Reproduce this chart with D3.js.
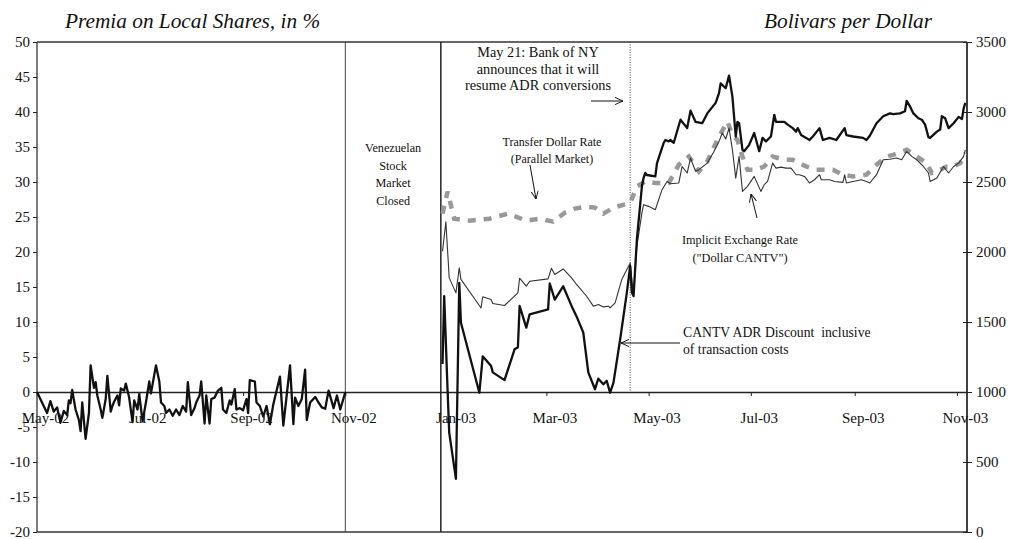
<!DOCTYPE html>
<html>
<head>
<meta charset="utf-8">
<script src="https://cdnjs.cloudflare.com/ajax/libs/d3/7.8.5/d3.min.js"></script>
<style>
  body { margin: 0; background: #fff; }
  svg { display: block; }
  text { font-family: "Liberation Serif", "Times New Roman", serif; fill: #111; }
</style>
</head>
<body>
<svg id="chart" width="1012" height="539"></svg>
<script>
// ---- Data -------------------------------------------------------------
// CANTV ADR discount (premium of local shares, %) before the market closure
const adrDiscount2002 = [
  ["2002-05-01",0],["2002-05-04",-1.5],["2002-05-07",-3.0],["2002-05-09",-1.3],["2002-05-11",-2.8],
  ["2002-05-13",-2.2],["2002-05-15",-4.4],["2002-05-17",-2.7],["2002-05-19",-3.3],["2002-05-20",-1.2],
  ["2002-05-21",-1.6],["2002-05-22",0.3],["2002-05-24",-2.5],["2002-05-26",-4.0],["2002-05-27",-5.6],
  ["2002-05-28",-1.5],["2002-05-30",-6.7],["2002-06-01",-3.0],["2002-06-02",3.8],["2002-06-04",0.6],
  ["2002-06-05",1.4],["2002-06-06",-0.5],["2002-06-08",-2.5],["2002-06-09",-3.7],["2002-06-11",-1.0],
  ["2002-06-12",2.3],["2002-06-14",-2.8],["2002-06-15",-2.0],["2002-06-16",-1.4],["2002-06-18",-0.5],
  ["2002-06-19",-1.9],["2002-06-20",0.5],["2002-06-22",0.2],["2002-06-23",1.2],["2002-06-25",-0.8],
  ["2002-06-27",-4.3],["2002-06-28",-1.2],["2002-06-30",-2.5],["2002-07-01",-0.3],["2002-07-03",-4.2],
  ["2002-07-05",-1.5],["2002-07-07",1.5],["2002-07-08",-0.2],["2002-07-11",3.8],["2002-07-13",1.5],
  ["2002-07-14",-1.5],["2002-07-16",-2.0],["2002-07-17",-3.0],["2002-07-19",-2.5],["2002-07-21",-3.4],
  ["2002-07-23",-2.5],["2002-07-25",-3.3],["2002-07-27",-2.0],["2002-07-29",-2.8],["2002-07-30",1.4],
  ["2002-08-01",-3.3],["2002-08-03",-2.3],["2002-08-04",-1.5],["2002-08-06",-0.5],["2002-08-07",1.5],
  ["2002-08-09",-4.5],["2002-08-10",-0.5],["2002-08-12",-4.5],["2002-08-13",-1.0],["2002-08-15",-0.8],
  ["2002-08-17",0.2],["2002-08-19",0.6],["2002-08-20",-2.5],["2002-08-22",-3.0],["2002-08-24",-1.2],
  ["2002-08-25",-1.8],["2002-08-27",0.4],["2002-08-28",-2.5],["2002-08-30",-2.3],["2002-09-01",-2.6],
  ["2002-09-03",-1.0],["2002-09-04",-3.0],["2002-09-05",1.7],["2002-09-08",1.5],["2002-09-09",-1.5],
  ["2002-09-11",-2.0],["2002-09-13",-3.5],["2002-09-15",-2.0],["2002-09-17",-4.6],["2002-09-19",-1.8],
  ["2002-09-23",2.2],["2002-09-25",-4.8],["2002-09-27",-0.5],["2002-09-29",3.8],["2002-10-01",-4.6],
  ["2002-10-02",-0.8],["2002-10-04",-2.0],["2002-10-06",-1.0],["2002-10-08",3.2],["2002-10-09",-4.0],
  ["2002-10-11",-1.5],["2002-10-14",-0.7],["2002-10-16",-1.5],["2002-10-18",-2.2],["2002-10-20",-2.4],
  ["2002-10-22",0.2],["2002-10-25",-2.3],["2002-10-27",-0.5],["2002-10-29",-2.5],["2002-11-01",0]
];

// CANTV ADR discount after trading resumed (%, inclusive of transaction costs)
const adrDiscount2003 = [
  ["2002-12-29",4.0],["2002-12-30",13.7],["2003-01-01",0.4],["2003-01-02",-5.8],["2003-01-06",-12.4],
  ["2003-01-08",15.6],["2003-01-09",9.9],["2003-01-20",-0.1],["2003-01-22",5.1],["2003-01-27",3.7],
  ["2003-01-28",2.8],["2003-02-04",1.7],["2003-02-10",6.1],["2003-02-12",6.4],["2003-02-13",12.3],
  ["2003-02-17",9.2],["2003-02-19",11.1],["2003-03-02",11.8],["2003-03-03",15.5],["2003-03-06",13.2],
  ["2003-03-11",15.1],["2003-03-16",12.3],["2003-03-19",10.8],["2003-03-23",8.5],["2003-03-26",2.8],
  ["2003-03-30",0.4],["2003-04-01",1.9],["2003-04-04",1.1],["2003-04-06",1.6],["2003-04-08",-0.1],
  ["2003-04-10",1.3],["2003-04-14",7.5],["2003-04-18",14.2],["2003-04-20",18.0],["2003-04-21",14.2],
  ["2003-04-22",13.7],["2003-04-24",21.8],["2003-04-27",29.4],["2003-04-28",30.6],["2003-04-29",31.3],
  ["2003-04-30",31.0],["2003-05-05",30.8],["2003-05-06",32.7],["2003-05-10",35.6],["2003-05-11",36.0],
  ["2003-05-13",35.8],["2003-05-14",36.0],["2003-05-16",35.6],["2003-05-20",38.9],["2003-05-24",37.7],
  ["2003-05-26",40.2],["2003-05-29",38.6],["2003-06-02",38.4],["2003-06-05",39.8],["2003-06-10",41.3],
  ["2003-06-12",42.7],["2003-06-13",44.1],["2003-06-16",43.4],["2003-06-18",45.2],["2003-06-20",42.2],
  ["2003-06-22",36.5],["2003-06-23",38.6],["2003-06-24",38.4],["2003-06-26",34.6],["2003-06-27",34.4],
  ["2003-06-30",35.3],["2003-07-03",37.0],["2003-07-06",34.4],["2003-07-08",36.3],["2003-07-10",35.8],
  ["2003-07-13",36.5],["2003-07-15",39.6],["2003-07-16",38.6],["2003-07-21",38.6],["2003-07-23",38.2],
  ["2003-07-26",37.7],["2003-07-28",37.2],["2003-07-29",37.7],["2003-07-31",36.7],["2003-08-03",36.3],
  ["2003-08-05",36.0],["2003-08-07",36.5],["2003-08-11",37.7],["2003-08-13",36.0],["2003-08-17",36.3],
  ["2003-08-21",36.0],["2003-08-26",37.7],["2003-08-27",36.7],["2003-08-31",36.5],["2003-09-06",36.3],
  ["2003-09-08",36.0],["2003-09-10",36.6],["2003-09-14",38.4],["2003-09-18",39.4],["2003-09-22",39.8],
  ["2003-09-24",39.7],["2003-09-28",39.8],["2003-10-01",40.1],["2003-10-02",41.6],["2003-10-04",40.8],
  ["2003-10-06",39.8],["2003-10-09",39.1],["2003-10-11",38.9],["2003-10-13",38.2],["2003-10-15",36.4],
  ["2003-10-16",36.3],["2003-10-20",37.2],["2003-10-22",37.5],["2003-10-23",39.4],["2003-10-25",39.1],
  ["2003-10-27",37.7],["2003-10-30",38.4],["2003-11-02",39.3],["2003-11-04",39.0],["2003-11-05",40.5],
  ["2003-11-06",41.3]
];

// Implicit exchange rate, "Dollar CANTV" (Bolivars per Dollar)
const implicitRate = [
  ["2002-12-29",2005],["2002-12-31",2215],["2003-01-02",1815],["2003-01-06",1708],["2003-01-08",1887],
  ["2003-01-09",1804],["2003-01-21",1600],["2003-01-22",1680],["2003-01-27",1661],["2003-01-28",1632],
  ["2003-02-04",1618],["2003-02-12",1708],["2003-02-13",1813],["2003-02-17",1756],["2003-02-19",1791],
  ["2003-03-02",1808],["2003-03-04",1884],["2003-03-06",1839],["2003-03-11",1879],["2003-03-16",1815],
  ["2003-03-19",1768],["2003-03-25",1684],["2003-03-29",1613],["2003-04-01",1625],["2003-04-04",1608],
  ["2003-04-07",1613],["2003-04-08",1601],["2003-04-11",1637],["2003-04-15",1804],["2003-04-20",1922],
  ["2003-04-21",1804],["2003-04-22",1684],["2003-04-24",2041],["2003-04-27",2279],["2003-04-28",2338],
  ["2003-05-01",2326],["2003-05-05",2302],["2003-05-09",2445],["2003-05-12",2504],["2003-05-14",2488],
  ["2003-05-19",2493],["2003-05-21",2611],["2003-05-24",2564],["2003-05-26",2671],["2003-05-29",2576],
  ["2003-05-31",2588],["2003-06-05",2635],["2003-06-09",2718],["2003-06-12",2790],["2003-06-14",2850],
  ["2003-06-16",2807],["2003-06-18",2885],["2003-06-20",2730],["2003-06-22",2528],["2003-06-24",2683],
  ["2003-06-26",2433],["2003-06-29",2469],["2003-07-03",2540],["2003-07-07",2433],["2003-07-09",2481],
  ["2003-07-11",2504],["2003-07-14",2635],["2003-07-16",2599],["2003-07-19",2606],["2003-07-22",2599],
  ["2003-07-25",2599],["2003-07-28",2552],["2003-07-30",2552],["2003-08-02",2540],["2003-08-05",2493],
  ["2003-08-08",2516],["2003-08-11",2552],["2003-08-12",2516],["2003-08-17",2516],["2003-08-20",2504],
  ["2003-08-25",2497],["2003-08-26",2552],["2003-08-27",2493],["2003-08-31",2504],["2003-09-05",2516],
  ["2003-09-08",2504],["2003-09-10",2493],["2003-09-14",2552],["2003-09-18",2659],["2003-09-22",2663],
  ["2003-09-26",2671],["2003-09-29",2659],["2003-10-02",2718],["2003-10-05",2683],["2003-10-08",2659],
  ["2003-10-12",2611],["2003-10-15",2564],["2003-10-16",2504],["2003-10-20",2528],["2003-10-24",2611],
  ["2003-10-27",2564],["2003-10-30",2611],["2003-11-02",2635],["2003-11-05",2683],["2003-11-06",2730]
];

// Transfer dollar rate, parallel market (Bolivars per Dollar)
const transferRate = [
  ["2002-12-29",2274],["2003-01-01",2431],["2003-01-05",2238],["2003-01-14",2224],["2003-01-26",2238],
  ["2003-02-06",2274],["2003-02-17",2224],["2003-02-25",2238],["2003-03-05",2217],["2003-03-12",2281],
  ["2003-03-18",2310],["2003-03-25",2324],["2003-03-30",2317],["2003-04-04",2274],["2003-04-10",2317],
  ["2003-04-20",2350],["2003-04-24",2468],["2003-04-29",2504],["2003-05-05",2493],["2003-05-13",2493],
  ["2003-05-19",2623],["2003-05-25",2682],["2003-05-31",2575],["2003-06-05",2647],["2003-06-11",2801],
  ["2003-06-17",2932],["2003-06-20",2837],["2003-06-23",2801],["2003-06-26",2682],["2003-06-29",2587],
  ["2003-07-04",2587],["2003-07-09",2611],["2003-07-14",2682],["2003-07-21",2659],["2003-07-26",2659],
  ["2003-08-03",2611],["2003-08-09",2587],["2003-08-19",2587],["2003-08-25",2552],["2003-08-31",2540],
  ["2003-09-08",2552],["2003-09-14",2623],["2003-09-20",2682],["2003-09-24",2694],["2003-10-02",2730],
  ["2003-10-08",2682],["2003-10-14",2635],["2003-10-17",2564],["2003-10-22",2587],["2003-10-26",2611],
  ["2003-10-30",2611],["2003-11-03",2635],["2003-11-06",2706]
];

const leftTicks  = [-20,-15,-10,-5,0,5,10,15,20,25,30,35,40,45,50];
const rightTicks = [0,500,1000,1500,2000,2500,3000,3500];
const monthTicks = ["2002-05-01","2002-07-01","2002-09-01","2002-11-01","2003-01-01",
                    "2003-03-01","2003-05-01","2003-07-01","2003-09-01","2003-11-01"];
const closureDates = ["2002-11-01","2002-12-28"];   // stock market closed between these
const announcementDate = "2003-04-20";

// ---- Scales -------------------------------------------------------------
const parse = d3.utcParse("%Y-%m-%d");
const svg = d3.select("#chart");
const L = 37, R = 967, T = 42, B = 532;

const x  = d3.scaleUtc().domain([parse("2002-05-01"), parse("2003-11-07")]).range([L, R]);
const yL = d3.scaleLinear().domain([-20, 50]).range([B, T]);
const yR = d3.scaleLinear().domain([0, 3500]).range([B, T]);

const lineL = d3.line().x(d => x(parse(d[0]))).y(d => yL(d[1]));
const lineR = d3.line().x(d => x(parse(d[0]))).y(d => yR(d[1]));

// ---- Frame ----------------------------------------------------------------
const frame = svg.append("g").attr("stroke", "#333").attr("stroke-width", 1.3);
frame.append("line").attr("x1", L).attr("x2", R).attr("y1", T).attr("y2", T);
frame.append("line").attr("x1", L).attr("x2", R).attr("y1", B).attr("y2", B);
frame.append("line").attr("x1", L).attr("x2", L).attr("y1", T).attr("y2", B);
frame.append("line").attr("x1", R).attr("x2", R).attr("y1", T).attr("y2", B).attr("stroke", "#111").attr("stroke-width", 1.6);

// Market closure boundaries and the ADR announcement
svg.selectAll("line.closure").data(closureDates).join("line")
  .attr("class", "closure")
  .attr("x1", d => x(parse(d))).attr("x2", d => x(parse(d)))
  .attr("y1", T).attr("y2", B)
  .attr("stroke", (d, i) => i ? "#222" : "#444")
  .attr("stroke-width", (d, i) => i ? 1.5 : 1);

svg.append("line")
  .attr("x1", x(parse(announcementDate))).attr("x2", x(parse(announcementDate)))
  .attr("y1", T).attr("y2", yL(0))
  .attr("stroke", "#333").attr("stroke-width", 0.9).attr("stroke-dasharray", "1,1.5");

// ---- Axes -----------------------------------------------------------------
function styleAxis(g) {
  g.select(".domain").remove();
  g.selectAll(".tick line").attr("stroke", "#222");
  g.selectAll("text").attr("font-family", "Liberation Serif, Times New Roman, serif")
    .attr("font-size", 15).attr("fill", "#111");
}

svg.append("g").attr("transform", `translate(${L},0)`)
  .call(d3.axisLeft(yL).tickValues(leftTicks).tickSize(4).tickPadding(3).tickFormat(d => String(d)))
  .call(styleAxis);

const rAxis = svg.append("g").attr("transform", `translate(${R},0)`)
  .call(d3.axisRight(yR).tickValues(rightTicks).tickSize(5).tickPadding(4).tickFormat(d => String(d)))
  .call(styleAxis);
rAxis.selectAll(".tick").append("line").attr("x1", -4).attr("x2", 0).attr("stroke", "#222");

svg.append("g").attr("transform", `translate(0,${yL(0)})`)
  .call(d3.axisBottom(x).tickValues(monthTicks.map(parse)).tickSize(4).tickSizeOuter(0)
        .tickPadding(16).tickFormat(d3.utcFormat("%b-%y")))
  .call(g => {
    g.select(".domain").attr("stroke", "#222").attr("stroke-width", 1.3);
    g.selectAll(".tick line").attr("stroke", "#222");
    g.selectAll("text").attr("font-family", "Liberation Serif, Times New Roman, serif")
      .attr("font-size", 15).attr("fill", "#111").attr("dx", 8);
  });

// ---- Series -----------------------------------------------------------------
svg.append("path").datum(transferRate).attr("d", lineR)
  .attr("fill", "none").attr("stroke", "#999").attr("stroke-width", 4.5)
  .attr("stroke-dasharray", "8,8");

svg.append("path").datum(implicitRate).attr("d", lineR)
  .attr("fill", "none").attr("stroke", "#333").attr("stroke-width", 1.1)
  .attr("stroke-linejoin", "round");

[adrDiscount2002, adrDiscount2003].forEach(seg => {
  svg.append("path").datum(seg).attr("d", lineL)
    .attr("fill", "none").attr("stroke", "#111").attr("stroke-width", 2.3)
    .attr("stroke-linejoin", "round");
});

// ---- Titles & annotations ----------------------------------------------------
svg.append("text").attr("x", 65).attr("y", 28).attr("font-size", 21.3).attr("font-style", "italic")
  .text("Premia on Local Shares, in %");
svg.append("text").attr("x", 932).attr("y", 28).attr("font-size", 21.3).attr("font-style", "italic")
  .attr("text-anchor", "end").text("Bolivars per Dollar");

function block(lines, xPos, y0, step, size, anchor) {
  const t = svg.append("text").attr("font-size", size).attr("text-anchor", anchor || "middle")
    .style("white-space", "pre");
  lines.forEach((s, i) => t.append("tspan").attr("x", xPos).attr("y", y0 + i * step).text(s));
}
block(["May 21: Bank of NY", "announces that it will", "resume ADR conversions"], 538, 57, 16.5, 14.3);
block(["Venezuelan", "Stock", "Market", "Closed"],
      (x(parse(closureDates[0])) + x(parse(closureDates[1]))) / 2, 152, 17.7, 12.2);
block(["Transfer Dollar Rate", "(Parallel Market)"], 552, 146, 17, 12);
block(["Implicit Exchange Rate", "(\"Dollar CANTV\")"], 740, 244, 18, 12.3);
block(["CANTV ADR Discount  inclusive", "of transaction costs"], 683, 337, 17, 13.7, "start");

// open arrowheads
svg.append("defs").append("marker").attr("id", "arrowHead")
  .attr("viewBox", "0 0 10 10").attr("refX", 10).attr("refY", 5)
  .attr("markerWidth", 8).attr("markerHeight", 8).attr("markerUnits", "userSpaceOnUse")
  .attr("orient", "auto")
  .append("path").attr("d", "M0,0.5 L10,5 L0,9.5").attr("fill", "none")
  .attr("stroke", "#111").attr("stroke-width", 1.2);

const arrows = [
  [591, 101, 623, 101],
  [530, 165, 536, 199],
  [757, 218, 751, 194],
  [680, 343, 621, 343]
];
svg.selectAll("line.arrow").data(arrows).join("line").attr("class", "arrow")
  .attr("x1", d => d[0]).attr("y1", d => d[1]).attr("x2", d => d[2]).attr("y2", d => d[3])
  .attr("stroke", "#111").attr("stroke-width", 1).attr("marker-end", "url(#arrowHead)");
</script>
</body>
</html>
